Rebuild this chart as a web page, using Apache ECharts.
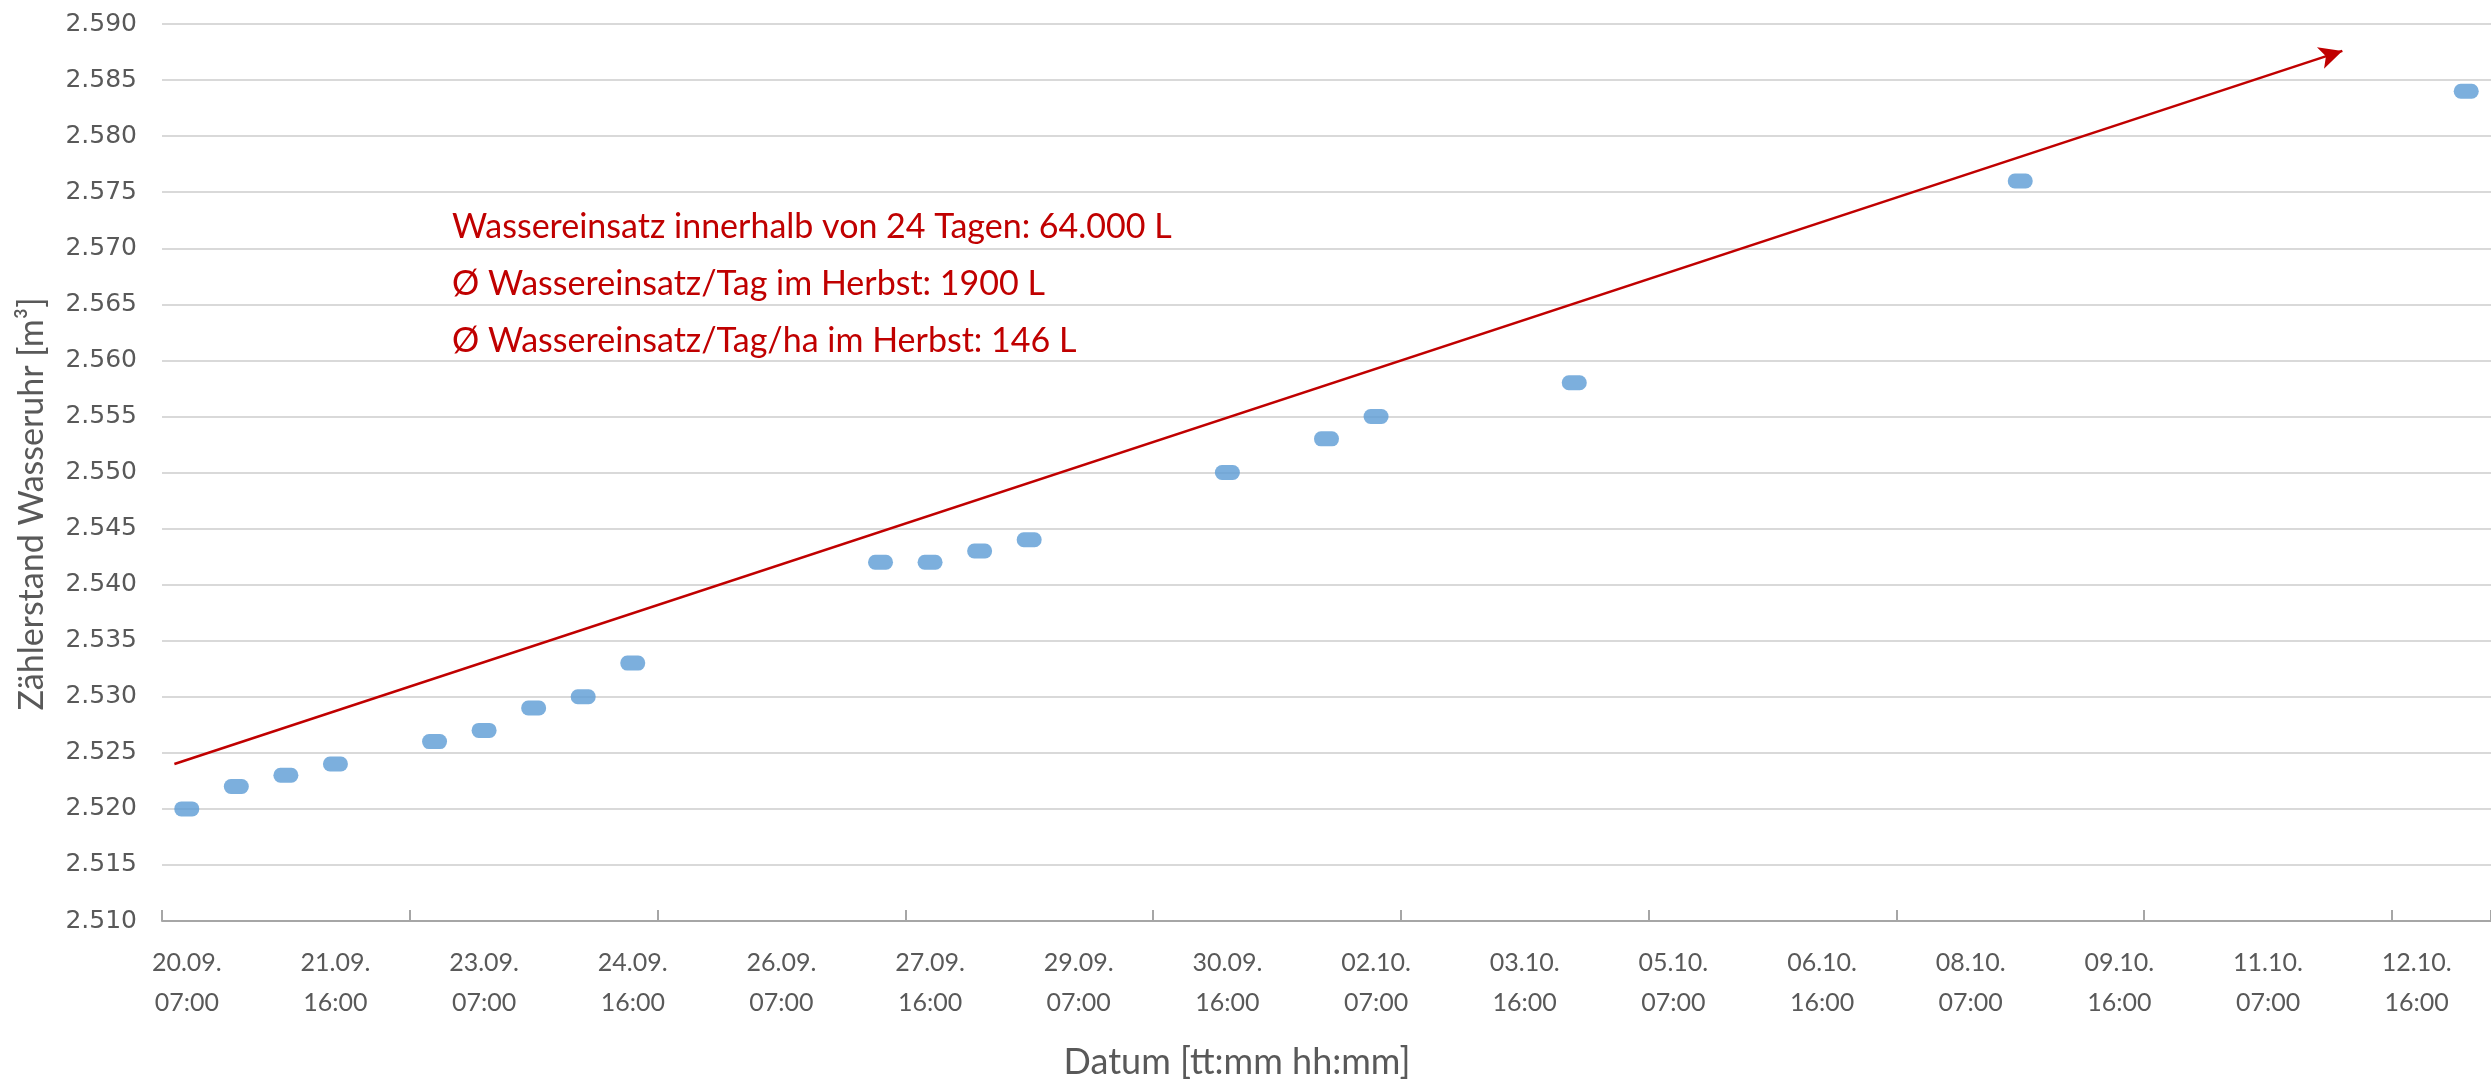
<!DOCTYPE html>
<html>
<head>
<meta charset="utf-8">
<script src="https://cdn.jsdelivr.net/npm/echarts@6/dist/echarts.min.js"></script>
<style>html,body{margin:0;padding:0;background:#fff}#c{width:2491px;height:1083px}</style>
</head>
<body>
<div id="c"></div>
<script>
// Category axis: two readings per day (07:00 and 16:00)
const categories = [
  "20.09.\n07:00","20.09.\n16:00","21.09.\n07:00","21.09.\n16:00","22.09.\n07:00","22.09.\n16:00",
  "23.09.\n07:00","23.09.\n16:00","24.09.\n07:00","24.09.\n16:00","25.09.\n07:00","25.09.\n16:00",
  "26.09.\n07:00","26.09.\n16:00","27.09.\n07:00","27.09.\n16:00","28.09.\n07:00","28.09.\n16:00",
  "29.09.\n07:00","29.09.\n16:00","30.09.\n07:00","30.09.\n16:00","01.10.\n07:00","01.10.\n16:00",
  "02.10.\n07:00","02.10.\n16:00","03.10.\n07:00","03.10.\n16:00","04.10.\n07:00","04.10.\n16:00",
  "05.10.\n07:00","05.10.\n16:00","06.10.\n07:00","06.10.\n16:00","07.10.\n07:00","07.10.\n16:00",
  "08.10.\n07:00","08.10.\n16:00","09.10.\n07:00","09.10.\n16:00","10.10.\n07:00","10.10.\n16:00",
  "11.10.\n07:00","11.10.\n16:00","12.10.\n07:00","12.10.\n16:00","13.10.\n07:00"
];
// Meter readings (m³)
const readingTimes = [
  "20.09.\n07:00","20.09.\n16:00","21.09.\n07:00","21.09.\n16:00","22.09.\n16:00","23.09.\n07:00",
  "23.09.\n16:00","24.09.\n07:00","24.09.\n16:00","27.09.\n07:00","27.09.\n16:00","28.09.\n07:00",
  "28.09.\n16:00","30.09.\n16:00","01.10.\n16:00","02.10.\n07:00","04.10.\n07:00","08.10.\n16:00",
  "13.10.\n07:00"
];
const readingValues = [
  2520, 2522, 2523, 2524, 2526, 2527,
  2529, 2530, 2533, 2542, 2542, 2543,
  2544, 2550, 2553, 2555, 2558, 2576,
  2584
];
// Trend arrow (category-index position, m³)
const arrowStart = [-0.25, 2524.0];
const arrowEnd = [43.5, 2587.6];
// Y axis range
const yMin = 2510, yMax = 2590, yStep = 5;
// Annotation texts
const notes = [
  "Wassereinsatz innerhalb von 24 Tagen: 64.000 L",
  "Ø Wassereinsatz/Tag im Herbst: 1900 L",
  "Ø Wassereinsatz/Tag/ha im Herbst: 146 L"
];
const xTitle = "Datum [tt:mm hh:mm]";
const yTitle = "Zählerstand Wasseruhr [m³]";

const grey = '#595959';
const chart = echarts.init(document.getElementById('c'), null, {renderer: 'canvas'});

const scatterData = readingTimes.map((t, i) => [t, readingValues[i]]);
const pill = 'path://M7,0 L18,0 A7,7 0 0 1 18,14 L7,14 A7,7 0 0 1 7,0 Z';

const option = {
  animation: false,
  backgroundColor: '#fff',
  grid: {left: 162, top: 24, width: 2336, height: 897, containLabel: false},
  xAxis: [{
    type: 'category',
    data: categories,
    boundaryGap: true,
    axisLine: {show: true, lineStyle: {color: '#A6A6A6', width: 2}},
    axisTick: {show: true, inside: true, length: 11, interval: 4, alignWithLabel: false,
      lineStyle: {color: '#A6A6A6', width: 2}},
    axisLabel: {interval: 2, margin: 22, color: grey, fontFamily: 'Lato', fontWeight: 400,
      fontSize: 25, lineHeight: 40},
    splitLine: {show: false}
  }, {
    type: 'value', show: false, min: -0.5, max: categories.length - 0.5
  }],
  yAxis: {
    type: 'value', min: yMin, max: yMax, interval: yStep,
    axisLine: {show: false}, axisTick: {show: false},
    axisLabel: {margin: 25, color: grey, fontFamily: 'DejaVu Sans', fontSize: 25,
      formatter: v => (v / 1000).toFixed(3)},
    splitLine: {show: true, lineStyle: {color: '#D9D9D9', width: 2}}
  },
  series: [{
    type: 'scatter',
    xAxisIndex: 0,
    data: scatterData,
    symbol: pill,
    symbolKeepAspect: false,
    symbolSize: [25, 15],
    itemStyle: {color: '#5B9BD5'},
    z: 3
  }, {
    type: 'line',
    xAxisIndex: 1,
    data: [],
    markLine: {
      silent: true,
      symbol: ['none', 'arrow'],
      symbolSize: [17, 23],
      label: {show: false},
      lineStyle: {color: '#C00000', width: 2.5, type: 'solid'},
      data: [[{coord: arrowStart}, {coord: arrowEnd}]]
    }
  }],
  graphic: [
    ...notes.map((t, i) => ({
      type: 'text', x: 452, y: 227 + i * 57,
      style: {text: t, fill: '#C00000', font: '400 34px Lato', verticalAlign: 'middle'}
    })),
    {type: 'text', x: 1237, y: 1062,
      style: {text: xTitle, fill: grey, font: '400 36px Lato', align: 'center', verticalAlign: 'middle'}},
    {type: 'text', rotation: Math.PI / 2, x: 32, y: 504,
      style: {text: yTitle, fill: grey, font: '400 34px Lato', align: 'center', verticalAlign: 'middle'}}
  ]
};
chart.setOption(option);
</script>
</body>
</html>
